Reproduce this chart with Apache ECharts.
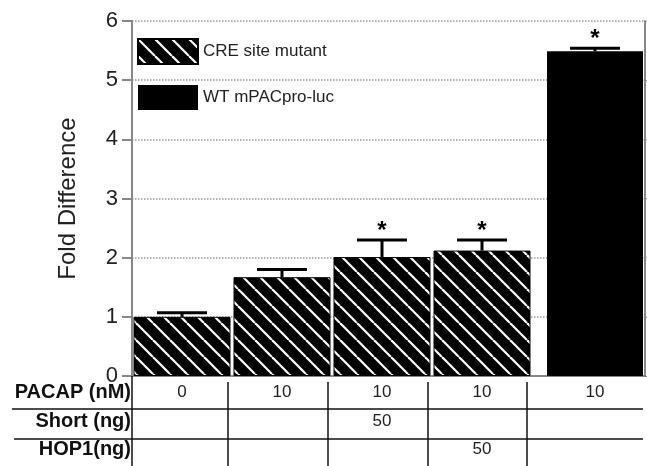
<!DOCTYPE html>
<html>
<head>
<meta charset="utf-8">
<script src="https://cdn.jsdelivr.net/npm/echarts@6/dist/echarts.min.js"></script>
<style>
  html, body { margin: 0; padding: 0; background: #fff; }
  #chart { width: 647px; height: 466px; }
</style>
</head>
<body>
<div id="chart"></div>
<script>
// values
const mutantMean = [1.0, 1.67, 2.01, 2.12]
const mutantErr = [0.07, 0.13, 0.29, 0.18]
const mutantSig = [0, 0, 1, 1]
const wtMean = [5.49]
const wtErr = [0.05]
const wtSig = [1]

const yTicks = [0, 1, 2, 3, 4, 5, 6]

// table under the bars (5 columns)
const rowLabels = ['PACAP (nM)', 'Short (ng)', 'HOP1(ng)']
const pacapRow = ['0', '10', '10', '10', '10']
const shortRow = ['', '', '50', '', '']
const hop1Row = ['', '', '', '50', '']

const FONT = 'Arial, "Liberation Sans", sans-serif'
const GRID_TOP = 21
const GRID_BOTTOM = 90 // 466 - 376

// hatch pattern for the mutant bars
const HATCH = 17
const hatch = document.createElement('canvas')
hatch.width = HATCH
hatch.height = HATCH
const hctx = hatch.getContext('2d')
hctx.fillStyle = '#000'
hctx.fillRect(0, 0, HATCH, HATCH)
hctx.strokeStyle = '#fff'
hctx.lineWidth = 2.2
for (let k = -1; k <= 1; k++) {
  hctx.beginPath()
  hctx.moveTo(k * HATCH, 0)
  hctx.lineTo(k * HATCH + HATCH, HATCH)
  hctx.stroke()
}

const errorItem = (params, api) => {
  const x = api.value(0)
  const mean = api.value(1)
  const top = mean + api.value(2)
  const base = api.coord([x, mean])
  const tip = api.coord([x, top])
  const children = [
    { type: 'line', shape: { x1: tip[0], y1: base[1], x2: tip[0], y2: tip[1] }, style: { stroke: '#000', lineWidth: 3 } },
    { type: 'line', shape: { x1: tip[0] - 25, y1: tip[1], x2: tip[0] + 25, y2: tip[1] }, style: { stroke: '#000', lineWidth: 3 } },
  ]
  if (api.value(3)) {
    children.push({
      type: 'text',
      style: { text: '*', x: tip[0], y: tip[1] + 3, align: 'center', verticalAlign: 'bottom', font: 'bold 24px ' + FONT, fill: '#000' },
    })
  }
  return { type: 'group', children }
}

const yRange = { min: yTicks[0], max: yTicks[yTicks.length - 1], interval: 1 }
const hiddenY = (gridIndex) => ({
  type: 'value', gridIndex, ...yRange,
  axisLine: { show: false }, axisTick: { show: false }, axisLabel: { show: false }, splitLine: { show: false },
})
const hiddenX = (gridIndex, n) => ({
  type: 'category', gridIndex, data: Array.from({ length: n }, (_, i) => i),
  axisLine: { show: false }, axisTick: { show: false }, axisLabel: { show: false }, splitLine: { show: false },
})

const chart = echarts.init(document.getElementById('chart'), null, { renderer: 'canvas' })

const option = {
  animation: false,
  backgroundColor: '#fff',
  grid: [
    { left: 132, right: 2, top: GRID_TOP, bottom: GRID_BOTTOM },   // frame + gridlines
    { left: 132, width: 400, top: GRID_TOP, bottom: GRID_BOTTOM }, // mutant bars
    { left: 545, width: 100, top: GRID_TOP, bottom: GRID_BOTTOM }, // WT bar
  ],
  legend: {
    data: ['CRE site mutant', 'WT mPACpro-luc'],
    orient: 'vertical',
    left: 137,
    top: 38,
    padding: 0,
    icon: 'rect',
    itemWidth: 60,
    itemHeight: 25,
    itemGap: 20,
    textStyle: { fontFamily: FONT, fontSize: 17, color: '#222' },
  },
  xAxis: [
    {
      type: 'value', gridIndex: 0, position: 'top', min: 0, max: 1,
      axisLine: { show: true, lineStyle: { color: '#888', width: 2 } },
      axisTick: { show: false }, axisLabel: { show: false }, splitLine: { show: false },
    },
    hiddenX(1, mutantMean.length),
    hiddenX(2, wtMean.length),
  ],
  yAxis: [
    {
      type: 'value', gridIndex: 0, ...yRange,
      name: 'Fold Difference',
      nameLocation: 'middle',
      nameGap: 52,
      nameTextStyle: { fontFamily: FONT, fontSize: 24, color: '#222' },
      axisLine: { show: true, lineStyle: { color: '#888', width: 2 } },
      axisTick: { show: true, length: 10, lineStyle: { color: '#888', width: 2 } },
      axisLabel: { fontFamily: FONT, fontSize: 22, color: '#222', margin: 14 },
      splitLine: { show: true, lineStyle: { color: '#999', type: 'dotted', width: 1.5 } },
    },
    {
      type: 'value', gridIndex: 0, position: 'right', ...yRange,
      axisLine: { show: true, lineStyle: { color: '#888', width: 2 } },
      axisTick: { show: true, length: 3, lineStyle: { color: '#888' } },
      axisLabel: { show: false }, splitLine: { show: false },
    },
    hiddenY(1),
    hiddenY(2),
  ],
  series: [
    {
      name: 'CRE site mutant',
      type: 'bar',
      xAxisIndex: 1,
      yAxisIndex: 2,
      barWidth: 97,
      data: mutantMean,
      itemStyle: { color: { image: hatch, repeat: 'repeat' }, borderColor: '#000', borderWidth: 1 },
    },
    {
      name: 'WT mPACpro-luc',
      type: 'bar',
      xAxisIndex: 2,
      yAxisIndex: 3,
      barWidth: 96,
      data: wtMean,
      itemStyle: { color: '#000' },
    },
    {
      type: 'custom',
      xAxisIndex: 1,
      yAxisIndex: 2,
      renderItem: errorItem,
      data: mutantMean.map((m, i) => [i, m, mutantErr[i], mutantSig[i]]),
      z: 5,
    },
    {
      type: 'custom',
      xAxisIndex: 2,
      yAxisIndex: 3,
      renderItem: errorItem,
      data: wtMean.map((m, i) => [i, m, wtErr[i], wtSig[i]]),
      z: 5,
    },
  ],
}

option && chart.setOption(option)

// table below the plot, columns follow the bar positions
const colX = [
  ...mutantMean.map((_, i) => chart.convertToPixel({ xAxisIndex: 1 }, i)),
  ...wtMean.map((_, i) => chart.convertToPixel({ xAxisIndex: 2 }, i)),
]
const rowY = [392, 421, 449]
const rows = [pacapRow, shortRow, hop1Row]
const graphics = []
const line = (x1, y1, x2, y2) => ({
  type: 'line', shape: { x1, y1, x2, y2 }, style: { stroke: '#111', lineWidth: 1.5 }, z: 10,
})
graphics.push(line(12, 409, 643, 409))
graphics.push(line(14, 439, 643, 439))
graphics.push(line(132, 376, 132, 466))
;[228, 328, 428, 527].forEach((x) => graphics.push(line(x, 382, x, 466)))
rowLabels.forEach((label, r) => {
  graphics.push({
    type: 'text', z: 9,
    style: { text: label, x: 131, y: rowY[r], align: 'right', verticalAlign: 'middle', font: 'bold 20px ' + FONT, fill: '#111' },
  })
})
rows.forEach((row, r) => {
  row.forEach((v, c) => {
    if (!v) return
    graphics.push({
      type: 'text', z: 9,
      style: { text: v, x: colX[c], y: rowY[r], align: 'center', verticalAlign: 'middle', font: '17px ' + FONT, fill: '#222' },
    })
  })
})
chart.setOption({ graphic: graphics })
</script>
</body>
</html>
